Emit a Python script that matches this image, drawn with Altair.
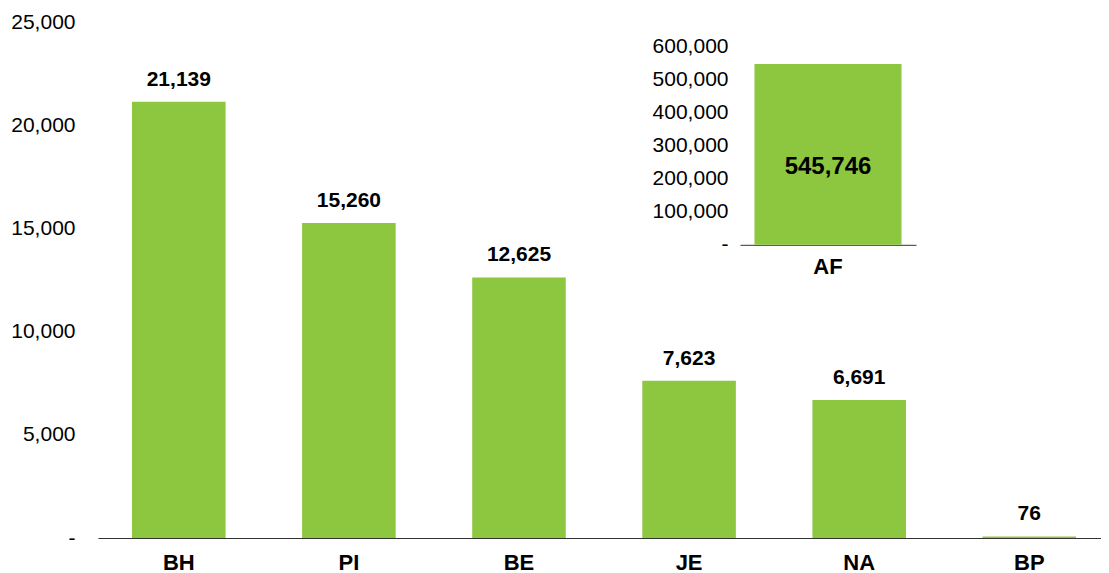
import altair as alt
import pandas as pd

# ---- data ----
categories = ["BH", "PI", "BE", "JE", "NA", "BP"]
values = [21139, 15260, 12625, 7623, 6691, 76]
inset_categories = ["AF"]
inset_values = [545746]
main_ticks = [0, 5000, 10000, 15000, 20000, 25000]
inset_ticks = [0, 100000, 200000, 300000, 400000, 500000, 600000]

main_df = pd.DataFrame({"cat": categories, "val": values})
inset_df = pd.DataFrame({"cat2": inset_categories, "val2": inset_values})

GREEN = "#8DC63F"
FONT = "Liberation Sans"
W, H = 1003, 516
label_expr = "datum.value == 0 ? '-' : format(datum.value, ',')"

# ---- main chart ----
xm = alt.X(
    "cat:N", sort=categories,
    scale=alt.Scale(paddingInner=0.45, paddingOuter=0.1733, align=0.577),
    axis=alt.Axis(title=None, orient="bottom", labelAngle=0, labelFont=FONT,
                  labelFontSize=22, labelFontWeight="bold", labelColor="black",
                  labelPadding=14, ticks=False, domainColor="#333333",
                  domainWidth=1, grid=False),
)
ym = alt.Y(
    "val:Q",
    scale=alt.Scale(domain=[0, 25000], nice=False),
    axis=alt.Axis(title=None, orient="left", values=main_ticks, labelExpr=label_expr,
                  labelFont=FONT, labelFontSize=21, labelColor="black",
                  labelPadding=23, ticks=False, domain=False, grid=False),
)
main_bars = alt.Chart(main_df).mark_bar(color=GREEN).encode(x=xm, y=ym)
main_text = alt.Chart(main_df).mark_text(
    dy=-22, baseline="middle", align="center", font=FONT, fontSize=21,
    fontWeight="bold", color="black"
).encode(x=alt.X("cat:N", sort=categories), y="val:Q",
         text=alt.Text("val:Q", format=","))
main = alt.layer(main_bars, main_text)

# ---- inset chart ----
xi = alt.X(
    "cat2:N",
    scale=alt.Scale(range=[642, 818], paddingInner=0, paddingOuter=0.0986),
    axis=alt.Axis(title=None, orient="bottom", offset=-293.2, labelAngle=0,
                  labelFont=FONT, labelFontSize=22, labelFontWeight="bold",
                  labelColor="black", labelPadding=12, ticks=False,
                  domainColor="#333333", domainWidth=1, grid=False),
)
yi = alt.Y(
    "val2:Q",
    scale=alt.Scale(domain=[0, 600000], nice=False, range=[222.8, 24]),
    axis=alt.Axis(title=None, orient="left", offset=-642, values=inset_ticks,
                  labelExpr=label_expr, labelFont=FONT, labelFontSize=21,
                  labelColor="black", labelPadding=12, ticks=False,
                  domain=False, grid=False),
)
inset_bars = alt.Chart(inset_df).mark_bar(color=GREEN).encode(x=xi, y=yi)
inset_text = alt.Chart(inset_df).transform_calculate(
    mid="datum.val2 / 2"
).mark_text(
    dy=13, baseline="middle", align="center", font=FONT, fontSize=24,
    fontWeight="bold", color="black"
).encode(x=alt.X("cat2:N"), y=alt.Y("mid:Q"),
         text=alt.Text("val2:Q", format=","))
inset = alt.layer(inset_bars, inset_text)

chart = alt.layer(main, inset).resolve_scale(
    x="independent", y="independent"
).properties(
    width=W, height=H,
    background="white",
    autosize=alt.AutoSizeParams(type="none"),
    padding={"left": 90, "top": 14, "right": 0, "bottom": 35},
).configure_view(stroke=None)

chart.save("out.html", embed_options={"renderer": "svg", "actions": False})
